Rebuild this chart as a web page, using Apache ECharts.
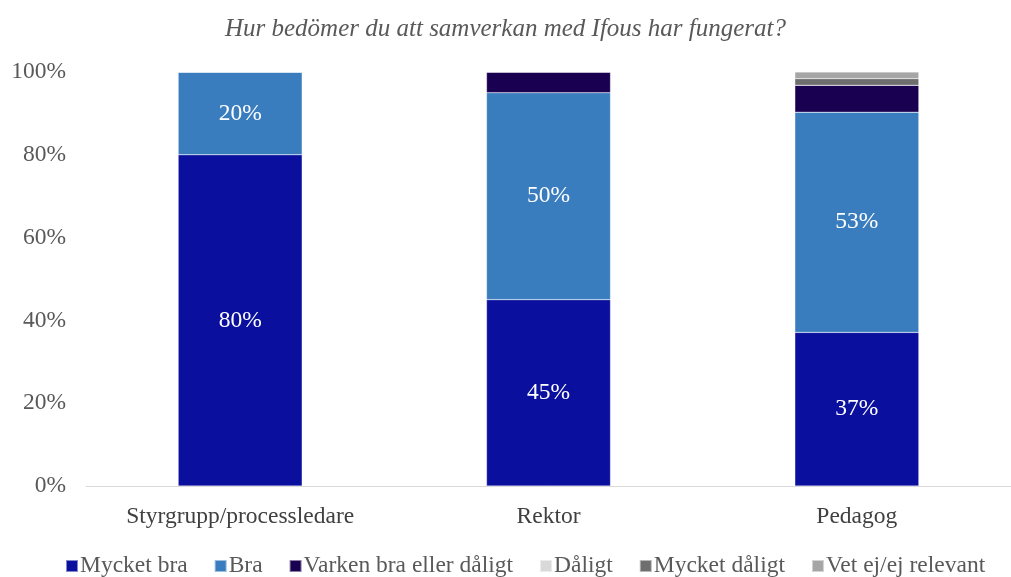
<!DOCTYPE html>
<html>
<head>
<meta charset="utf-8">
<script src="https://cdn.jsdelivr.net/npm/echarts@6/dist/echarts.min.js"></script>
<style>
  html, body { margin: 0; padding: 0; background: #fff; }
  #chart { width: 1011px; height: 577px; }
</style>
</head>
<body>
<div id="chart"></div>
<script>
// kategorier och andelar (%)
const categories = ['Styrgrupp/processledare', 'Rektor', 'Pedagog']
const seriesNames = ['Mycket bra', 'Bra', 'Varken bra eller dåligt', 'Dåligt', 'Mycket dåligt', 'Vet ej/ej relevant']
const mycketBra = [80, 45, 37.1]
const bra = [20, 50, 53.2]
const varken = [0, 5, 6.5]
const daligt = [0, 0, 0]
const mycketDaligt = [0, 0, 1.6]
const vetEj = [0, 0, 1.6]
const yTicks = [0, 20, 40, 60, 80, 100]

const colors = ['#0a0f9e', '#3a7dbf', '#1a0050', '#d9d9d9', '#6e6e6e', '#a6a6a6']
const font = '"Liberation Serif", "Times New Roman", serif'
const allValues = [mycketBra, bra, varken, daligt, mycketDaligt, vetEj]

const chart = echarts.init(document.getElementById('chart'))

const series = seriesNames.map((name, i) => ({
  name: name,
  type: 'bar',
  stack: 'total',
  barWidth: 124,
  data: allValues[i],
  itemStyle: { color: colors[i], borderColor: 'rgba(255,255,255,0.5)', borderWidth: 0.5 },
  label: {
    show: true,
    position: 'inside',
    color: '#fff',
    fontFamily: font,
    fontSize: 23.5,
    formatter: p => (p.value >= 10 ? Math.round(p.value) + '%' : '')
  }
}))

chart.setOption({
  animation: false,
  textStyle: { fontFamily: font },
  title: {
    text: 'Hur bedömer du att samverkan med Ifous har fungerat?',
    left: 'center',
    top: 12,
    textStyle: { fontFamily: font, fontStyle: 'italic', fontWeight: 'normal', fontSize: 25, color: '#595959' }
  },
  legend: {
    data: seriesNames,
    bottom: -6,
    left: 60,
    itemWidth: 12,
    itemHeight: 12,
    itemGap: 26,
    icon: 'rect',
    textStyle: { fontFamily: font, fontSize: 23.5, color: '#595959', padding: [0, 0, 0, -3] }
  },
  grid: { left: 86, top: 72, bottom: 91, width: 936 },
  xAxis: {
    type: 'category',
    data: categories,
    axisTick: { show: false },
    axisLine: { lineStyle: { color: '#d9d9d9', width: 1 } },
    axisLabel: { fontFamily: font, fontSize: 23.5, color: '#404040', margin: 19 }
  },
  yAxis: {
    type: 'value',
    min: yTicks[0],
    max: yTicks[yTicks.length - 1],
    interval: 20,
    splitLine: { show: false },
    axisLine: { show: false },
    axisTick: { show: false },
    axisLabel: { fontFamily: font, fontSize: 23.5, color: '#595959', margin: 20, padding: [4, 0, 0, 0], formatter: '{value}%' }
  },
  series: series
})
</script>
</body>
</html>
